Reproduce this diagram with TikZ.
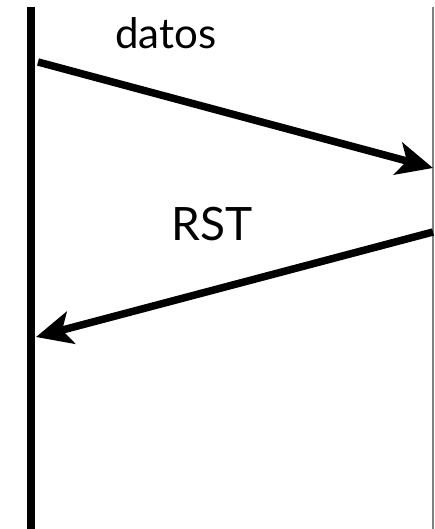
\documentclass[tikz,border=0pt]{standalone}
\usepackage{fontspec}
\setmainfont{Lato}
\usetikzlibrary{arrows.meta,positioning,calc}

\begin{document}
\begin{tikzpicture}[x=1pt,y=-1pt,
    msg/.style={line width=7.5pt,-{Stealth[length=36pt,width=33pt,inset=9pt]}},
    host/.style={line width=8pt},
    peer/.style={line width=1.4pt,gray}]
    \useasboundingbox (0,0) rectangle (434,529);
    \coordinate (ltop) at (30.5,7);
    \coordinate (lbot) at (30.5,529);
    \coordinate (rtop) at (433,7);
    \coordinate (rbot) at (433,529);
    \coordinate (d1) at (38,62);
    \coordinate (d2) at (433,168);
    \coordinate (r1) at (433,232);
    \coordinate (r2) at (36,337);
    \draw[host] (ltop) -- (lbot);
    \draw[peer] (rtop) -- (rbot);
    \draw[msg] (d1) -- (d2);
    \draw[msg] (r1) -- (r2);
    \node[anchor=base,inner sep=0pt,font=\fontsize{42}{48}\selectfont] (datos) at (166,49) {datos};
    \node[anchor=base,inner sep=0pt,font=\fontsize{46}{52}\selectfont] (rst) at (212,240) {RST};
\end{tikzpicture}
\end{document}
